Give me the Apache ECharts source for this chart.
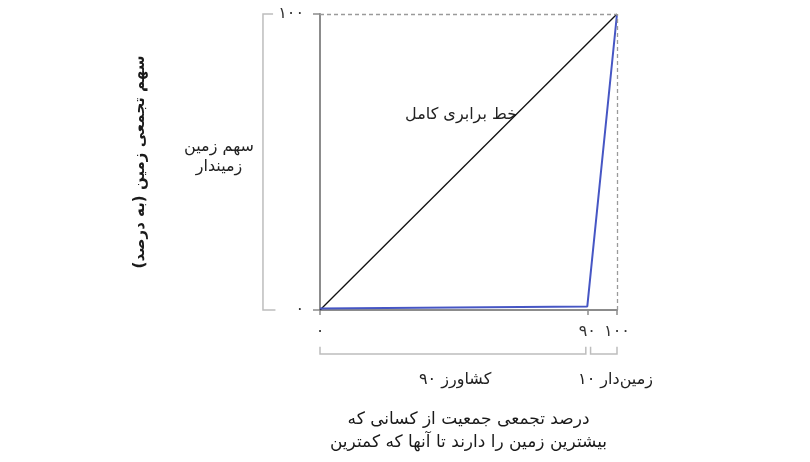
<!DOCTYPE html>
<html>
<head>
<meta charset="utf-8">
<script src="https://cdn.jsdelivr.net/npm/echarts@6/dist/echarts.min.js"></script>
<style>
html,body{margin:0;padding:0;background:#fff;}
#chart{width:810px;height:462px;}
</style>
</head>
<body>
<div id="chart"></div>
<script>
// ---- data ----
const equalityLine = [[0, 0], [100, 100]];
const lorenzCurve = [[0, 0.5], [90, 1.2], [100, 100]];
const xTickValues = [0, 90, 100];
const yTickValues = [0, 100];
const groupRanges = [[0, 90], [90, 100]]; // farmers, landowners
const groupCounts = [90, 10];
const groupNames = ['کشاورز', 'زمین‌دار'];
const equalityLabel = 'خط برابری کامل';
const shareLabel = 'سهم زمین\nزمیندار';
const xTitle = 'درصد تجمعی جمعیت از کسانی که\nبیشترین زمین را دارند تا آنها که کمترین';
const yTitle = 'سهم تجمعی زمین (به درصد)';

const FONT = 'DejaVu Sans';
function fa(n) {
  return String(n).replace(/[0-9]/g, d => '۰۱۲۳۴۵۶۷۸۹'[+d]);
}

const chart = echarts.init(document.getElementById('chart'));
chart.setOption({
  animation: false,
  backgroundColor: '#fff',
  textStyle: { fontFamily: FONT },
  grid: { left: 320, right: 193, top: 14, bottom: 152, containLabel: false },
  xAxis: {
    type: 'value', min: 0, max: 100,
    splitLine: { show: false },
    axisLine: { show: true, lineStyle: { color: '#8c8c8c', width: 2 } },
    axisTick: { show: true, customValues: xTickValues, length: 5, lineStyle: { color: '#8c8c8c', width: 1.5 } },
    axisLabel: { customValues: xTickValues, formatter: v => fa(v), color: '#333', fontSize: 16, fontFamily: FONT, margin: 14 },
    name: xTitle, nameLocation: 'middle', nameGap: 98,
    nameTextStyle: { fontSize: 17, color: '#1a1a1a', fontFamily: FONT, lineHeight: 23, align: 'center' }
  },
  yAxis: {
    type: 'value', min: 0, max: 100, interval: 100,
    splitLine: { show: false },
    axisLine: { show: true, lineStyle: { color: '#8c8c8c', width: 2 } },
    axisTick: { show: true, customValues: yTickValues, length: 7, lineStyle: { color: '#8c8c8c', width: 1.5 } },
    axisLabel: { customValues: yTickValues, formatter: v => fa(v), color: '#333', fontSize: 16, fontFamily: FONT, margin: 16 },
    name: yTitle, nameLocation: 'middle', nameGap: 172, nameRotate: 90,
    nameTextStyle: { fontSize: 15, color: '#1a1a1a', fontFamily: FONT, fontWeight: 'bold' }
  },
  series: [
    {
      type: 'line', data: equalityLine, symbol: 'none',
      lineStyle: { color: '#111', width: 1.3 },
      markLine: {
        symbol: 'none', silent: true, label: { show: false },
        lineStyle: { color: '#9a9a9a', type: [4, 3], width: 1.3 },
        data: [
          [{ coord: [0, 100] }, { coord: [100, 100] }],
          [{ coord: [100, 0] }, { coord: [100, 100] }]
        ]
      }
    },
    {
      type: 'line', data: lorenzCurve, symbol: 'none',
      lineStyle: { color: '#4656c4', width: 2 }
    }
  ]
});

function px(x, y) { return chart.convertToPixel({ gridIndex: 0 }, [x, y]); }

const bracketColor = '#bdbdbd';
const graphics = [];
// left bracket spanning y range 0-100
{
  const a = px(-19.2, 0), b = px(-19.2, 100), c = px(-15, 0), d = px(-15.8, 100);
  graphics.push({ type: 'polyline', shape: { points: [[d[0], b[1]], [a[0], b[1]], [a[0], a[1]], [c[0], a[1]]] },
    style: { stroke: bracketColor, lineWidth: 1.5, fill: null } });
}
// bottom brackets for groups
groupRanges.forEach((r, i) => {
  const gap = i === 0 ? -0.5 : 1.1;
  const x0 = px(i === 0 ? r[0] : r[0] + gap, 0)[0];
  const x1 = px(i === 0 ? r[1] + gap : r[1], 0)[0];
  const yb = px(0, -14.9)[1], yt = px(0, -12.4)[1];
  graphics.push({ type: 'polyline', shape: { points: [[x0, yt], [x0, yb], [x1, yb], [x1, yt]] },
    style: { stroke: bracketColor, lineWidth: 1.5, fill: null } });
});
// group labels (number drawn to the left of the word)
const labelX = [45.5, 99.5];
groupNames.forEach((name, i) => {
  const p = px(labelX[i], -23.6);
  graphics.push({ type: 'text', x: p[0], y: p[1], style: {
    text: '{n|' + fa(groupCounts[i]) + '}{s| }{w|' + name + '}',
    rich: {
      n: { font: '16px ' + FONT, fill: '#222' },
      s: { font: '16px ' + FONT, fill: '#222' },
      w: { font: '16px ' + FONT, fill: '#222' }
    },
    font: '16px ' + FONT, fill: '#222', align: 'center', verticalAlign: 'middle' } });
});
// equality label
{
  const p = px(47.5, 65.9);
  graphics.push({ type: 'text', x: p[0], y: p[1], style: { text: equalityLabel, font: '16px ' + FONT, fill: '#222', align: 'center', verticalAlign: 'middle' } });
}
// share label
{
  const p = px(-34, 51.7);
  graphics.push({ type: 'text', x: p[0], y: p[1], style: { text: shareLabel, font: '16px ' + FONT, fill: '#222', align: 'center', verticalAlign: 'middle', lineHeight: 20 } });
}
chart.setOption({ graphic: graphics });
</script>
</body>
</html>
